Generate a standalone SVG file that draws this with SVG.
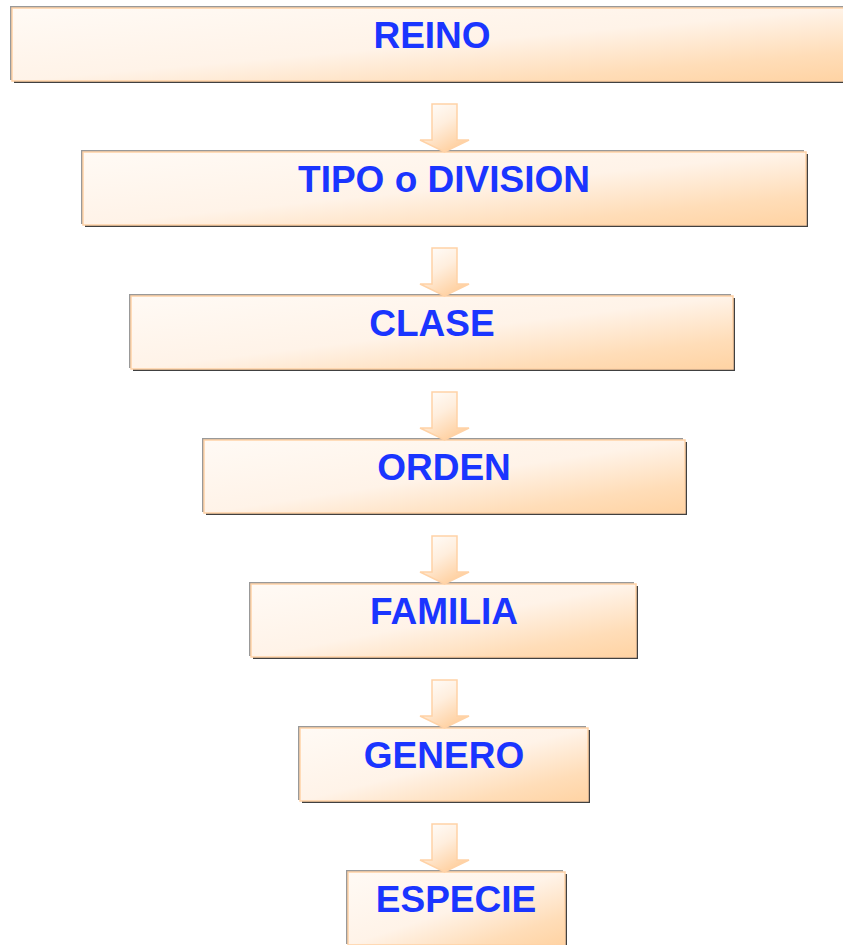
<svg xmlns="http://www.w3.org/2000/svg" width="843" height="945" viewBox="0 0 843 945">
<defs>
<linearGradient id="boxFill" x1="0" y1="0" x2="1" y2="1">
<stop offset="0" stop-color="#FFFAF5"/>
<stop offset="0.5" stop-color="#FFF3E8"/>
<stop offset="0.8" stop-color="#FFDDB8"/>
<stop offset="1" stop-color="#FFD3A3"/>
</linearGradient>
<linearGradient id="arrowFill" x1="0" y1="0" x2="0.6" y2="1">
<stop offset="0" stop-color="#FFFFFF"/>
<stop offset="0.5" stop-color="#FFEEDD"/>
<stop offset="1" stop-color="#FFD0A0"/>
</linearGradient>
</defs>
<style>
.hl{fill:#999999;}
.sh{fill:#404040;}
.box{fill:url(#boxFill);stroke:#FFD2A6;stroke-width:1.5;}
.lbl{font-family:"Liberation Sans",Arial,sans-serif;font-weight:bold;font-size:37px;fill:#1A35FF;text-anchor:middle;}
.arr{fill:url(#arrowFill);stroke:#FFD2A6;stroke-width:1.5;stroke-linejoin:miter;}
</style>
<rect width="843" height="945" fill="#FFFFFF"/>
<g id="reino">
<rect class="hl" x="10" y="6" width="840" height="74"/>
<rect class="sh" x="14" y="10" width="840" height="73"/>
<rect class="box" x="12" y="8" width="840" height="73"/>
<text class="lbl" x="432" y="48">REINO</text>
</g>
<g id="tipo">
<rect class="hl" x="81" y="150" width="723" height="74"/>
<rect class="sh" x="85" y="154" width="723" height="73"/>
<rect class="box" x="83" y="152" width="723" height="73"/>
<text class="lbl" x="444" y="192">TIPO o DIVISION</text>
</g>
<g id="clase">
<rect class="hl" x="129" y="294" width="602" height="74"/>
<rect class="sh" x="133" y="298" width="602" height="73"/>
<rect class="box" x="131" y="296" width="602" height="73"/>
<text class="lbl" x="432" y="336">CLASE</text>
</g>
<g id="orden">
<rect class="hl" x="202" y="438" width="481" height="74"/>
<rect class="sh" x="206" y="442" width="481" height="73"/>
<rect class="box" x="204" y="440" width="481" height="73"/>
<text class="lbl" x="444" y="480">ORDEN</text>
</g>
<g id="familia">
<rect class="hl" x="249" y="582" width="385" height="74"/>
<rect class="sh" x="253" y="586" width="385" height="73"/>
<rect class="box" x="251" y="584" width="385" height="73"/>
<text class="lbl" x="444" y="624">FAMILIA</text>
</g>
<g id="genero">
<rect class="hl" x="298" y="726" width="288" height="74"/>
<rect class="sh" x="302" y="730" width="288" height="73"/>
<rect class="box" x="300" y="728" width="288" height="73"/>
<text class="lbl" x="444" y="768">GENERO</text>
</g>
<g id="especie">
<rect class="hl" x="346" y="870" width="217" height="74"/>
<rect class="sh" x="350" y="874" width="217" height="73"/>
<rect class="box" x="348" y="872" width="217" height="73"/>
<text class="lbl" x="456" y="912">ESPECIE</text>
</g>
<g id="connectors">
<path class="arr" d="M432,104 H457 V140 H469 L444.5,152 L420,140 H432 Z"/>
<path class="arr" d="M432,248 H457 V284 H469 L444.5,296 L420,284 H432 Z"/>
<path class="arr" d="M432,392 H457 V428 H469 L444.5,440 L420,428 H432 Z"/>
<path class="arr" d="M432,536 H457 V572 H469 L444.5,584 L420,572 H432 Z"/>
<path class="arr" d="M432,680 H457 V716 H469 L444.5,728 L420,716 H432 Z"/>
<path class="arr" d="M432,824 H457 V860 H469 L444.5,872 L420,860 H432 Z"/>
</g>
</svg>
